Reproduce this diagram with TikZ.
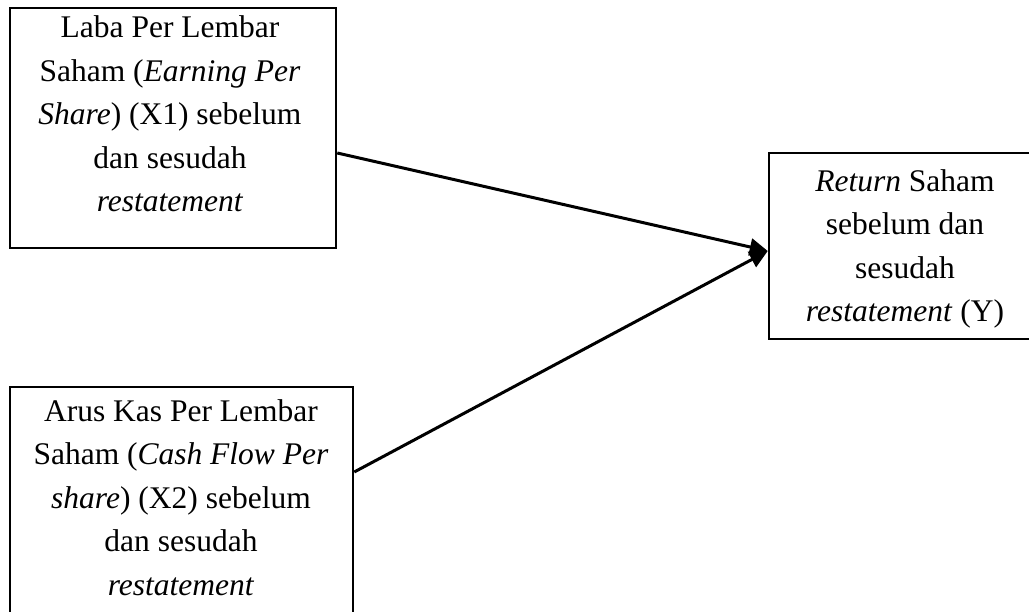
\documentclass[tikz,border=0pt]{standalone}
\usepackage{fontspec}
\setmainfont{Liberation Serif}
\usepackage{xcolor}
\usepackage{tikz}
\usetikzlibrary{arrows.meta,positioning,calc}

\begin{document}
\begin{tikzpicture}[x=1pt,y=-1pt,
  box/.style={draw,line width=2.5pt,rectangle,inner sep=0pt},
  lbl/.style={align=center,anchor=base,inner sep=0pt,font=\fontsize{31.5}{43.5}\selectfont},
  link/.style={line width=3pt,-{Triangle[length=18pt,width=17pt]}}]
\useasboundingbox (0,0) rectangle (1029,612);
\clip (0,0) rectangle (1029,612);
% variable boxes
\node[box,minimum width=326pt,minimum height=240pt] (eps) at (173,128) {};
\node[box,minimum width=343pt,minimum height=245pt] (cfps) at (181.5,509.5) {};
\node[box,minimum width=272pt,minimum height=186pt] (ret) at (905,246) {};
\node[lbl] (eps text) at (170,212) {Laba Per Lembar\\Saham (\textit{Earning Per}\\\textit{Share}) (X1) sebelum\\dan sesudah\\\textit{restatement}};
\node[lbl] (cfps text) at (181,595) {Arus Kas Per Lembar\\Saham (\textit{Cash Flow Per}\\\textit{share}) (X2) sebelum\\dan sesudah\\\textit{restatement}};
\node[lbl] (ret text) at (905,322) {\textit{Return} Saham\\sebelum dan\\sesudah\\\textit{restatement} (Y)};
% arrows
\coordinate (meet) at ([yshift=-5pt]ret.west);
\draw[link] ([yshift=-25pt]eps.east) -- (meet);
\draw[link] ([yshift=37.5pt]cfps.east) -- (meet);
\end{tikzpicture}
\end{document}
